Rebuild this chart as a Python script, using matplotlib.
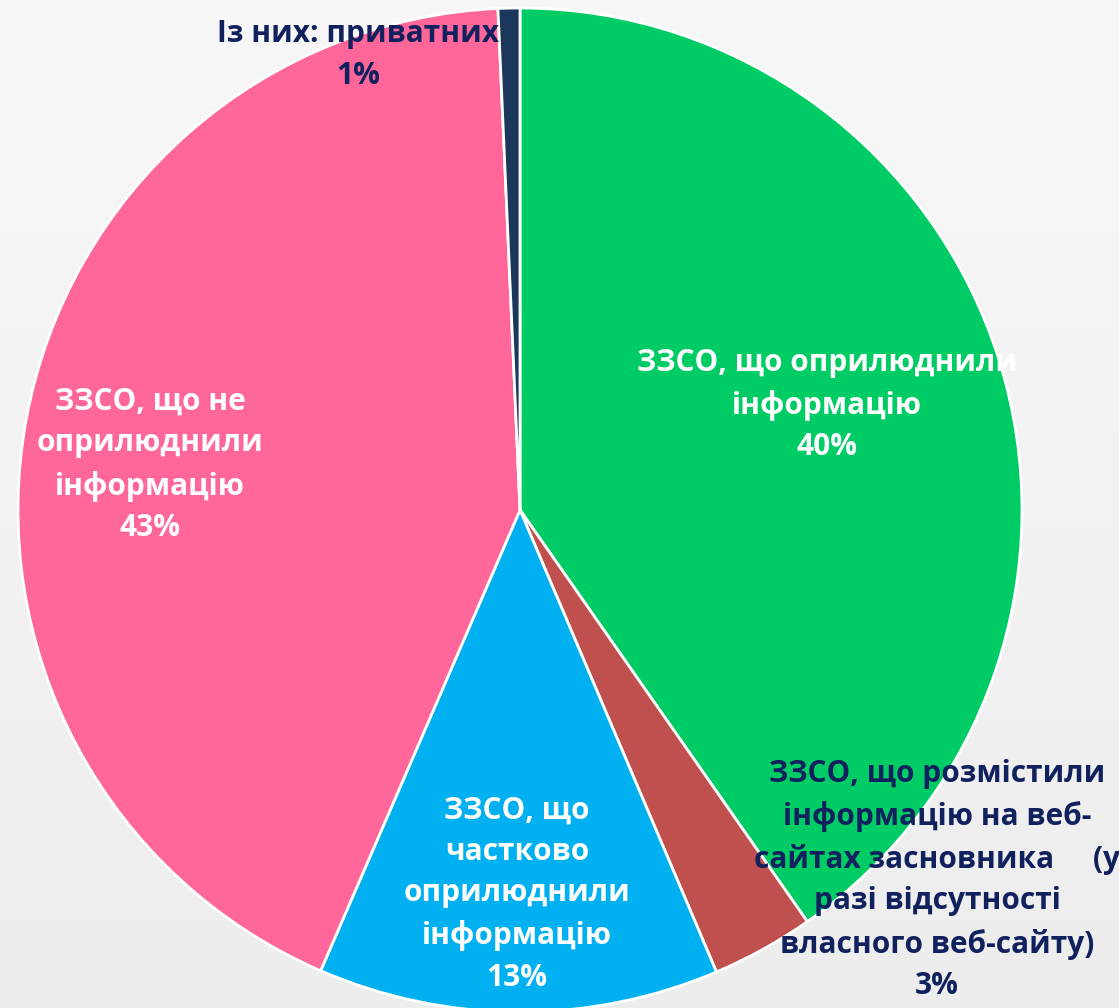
import matplotlib.pyplot as plt
import numpy as np

plt.rcParams['font.family'] = ['Open Sans', 'DejaVu Sans']

# slice data (clockwise from top)
labels = ["ЗЗСО, що оприлюднили\nінформацію",
          "ЗЗСО, що розмістили\nінформацію на веб-\nсайтах засновника     (у\nразі відсутності\nвласного веб-сайту)",
          "ЗЗСО, що\nчастково\nоприлюднили\nінформацію",
          "ЗЗСО, що не\nоприлюднили\nінформацію",
          "Із них: приватних"]
values = [40.3, 3.3, 12.9, 42.8, 0.7]
pct_text = ["40%", "3%", "13%", "43%", "1%"]
colors = ["#00CC66", "#C0504D", "#00B0F0", "#FF6699", "#1B375C"]
text_colors = ["white", "#10215E", "white", "white", "#10215E"]

W, H = 1119, 1008
cx, cy, R = 520, 510, 502

fig = plt.figure(figsize=(W / 100, H / 100), dpi=100)
ax = fig.add_axes([0, 0, 1, 1])

# light gray gradient background
grad = np.linspace(0.97, 0.93, 256).reshape(-1, 1)
ax.imshow(np.dstack([grad, grad, grad]), extent=[-cx / R, (W - cx) / R, -(H - cy) / R, cy / R],
          aspect='auto', zorder=0)

wedges, _ = ax.pie(values, colors=colors, startangle=90, counterclock=False,
                   radius=1, center=(0, 0), frame=True,
                   wedgeprops=dict(edgecolor='white', linewidth=2))
for w in wedges:
    w.set_zorder(2)
ax.set_xlim(-cx / R, (W - cx) / R)
ax.set_ylim(-(H - cy) / R, cy / R)
ax.set_aspect('auto')
ax.axis('off')

# label centres in pixels
pos = [(827, 405), (937, 880), (517, 894), (150, 465), (358, 55)]
for lab, pct, tc, (px, py) in zip(labels, pct_text, text_colors, pos):
    ax.text((px - cx) / R, (cy - py) / R, lab + "\n" + pct, color=tc,
            ha='center', va='center', fontsize=21.5, fontweight='bold',
            linespacing=1.5, zorder=5)

fig.savefig("out.png", dpi=100)
